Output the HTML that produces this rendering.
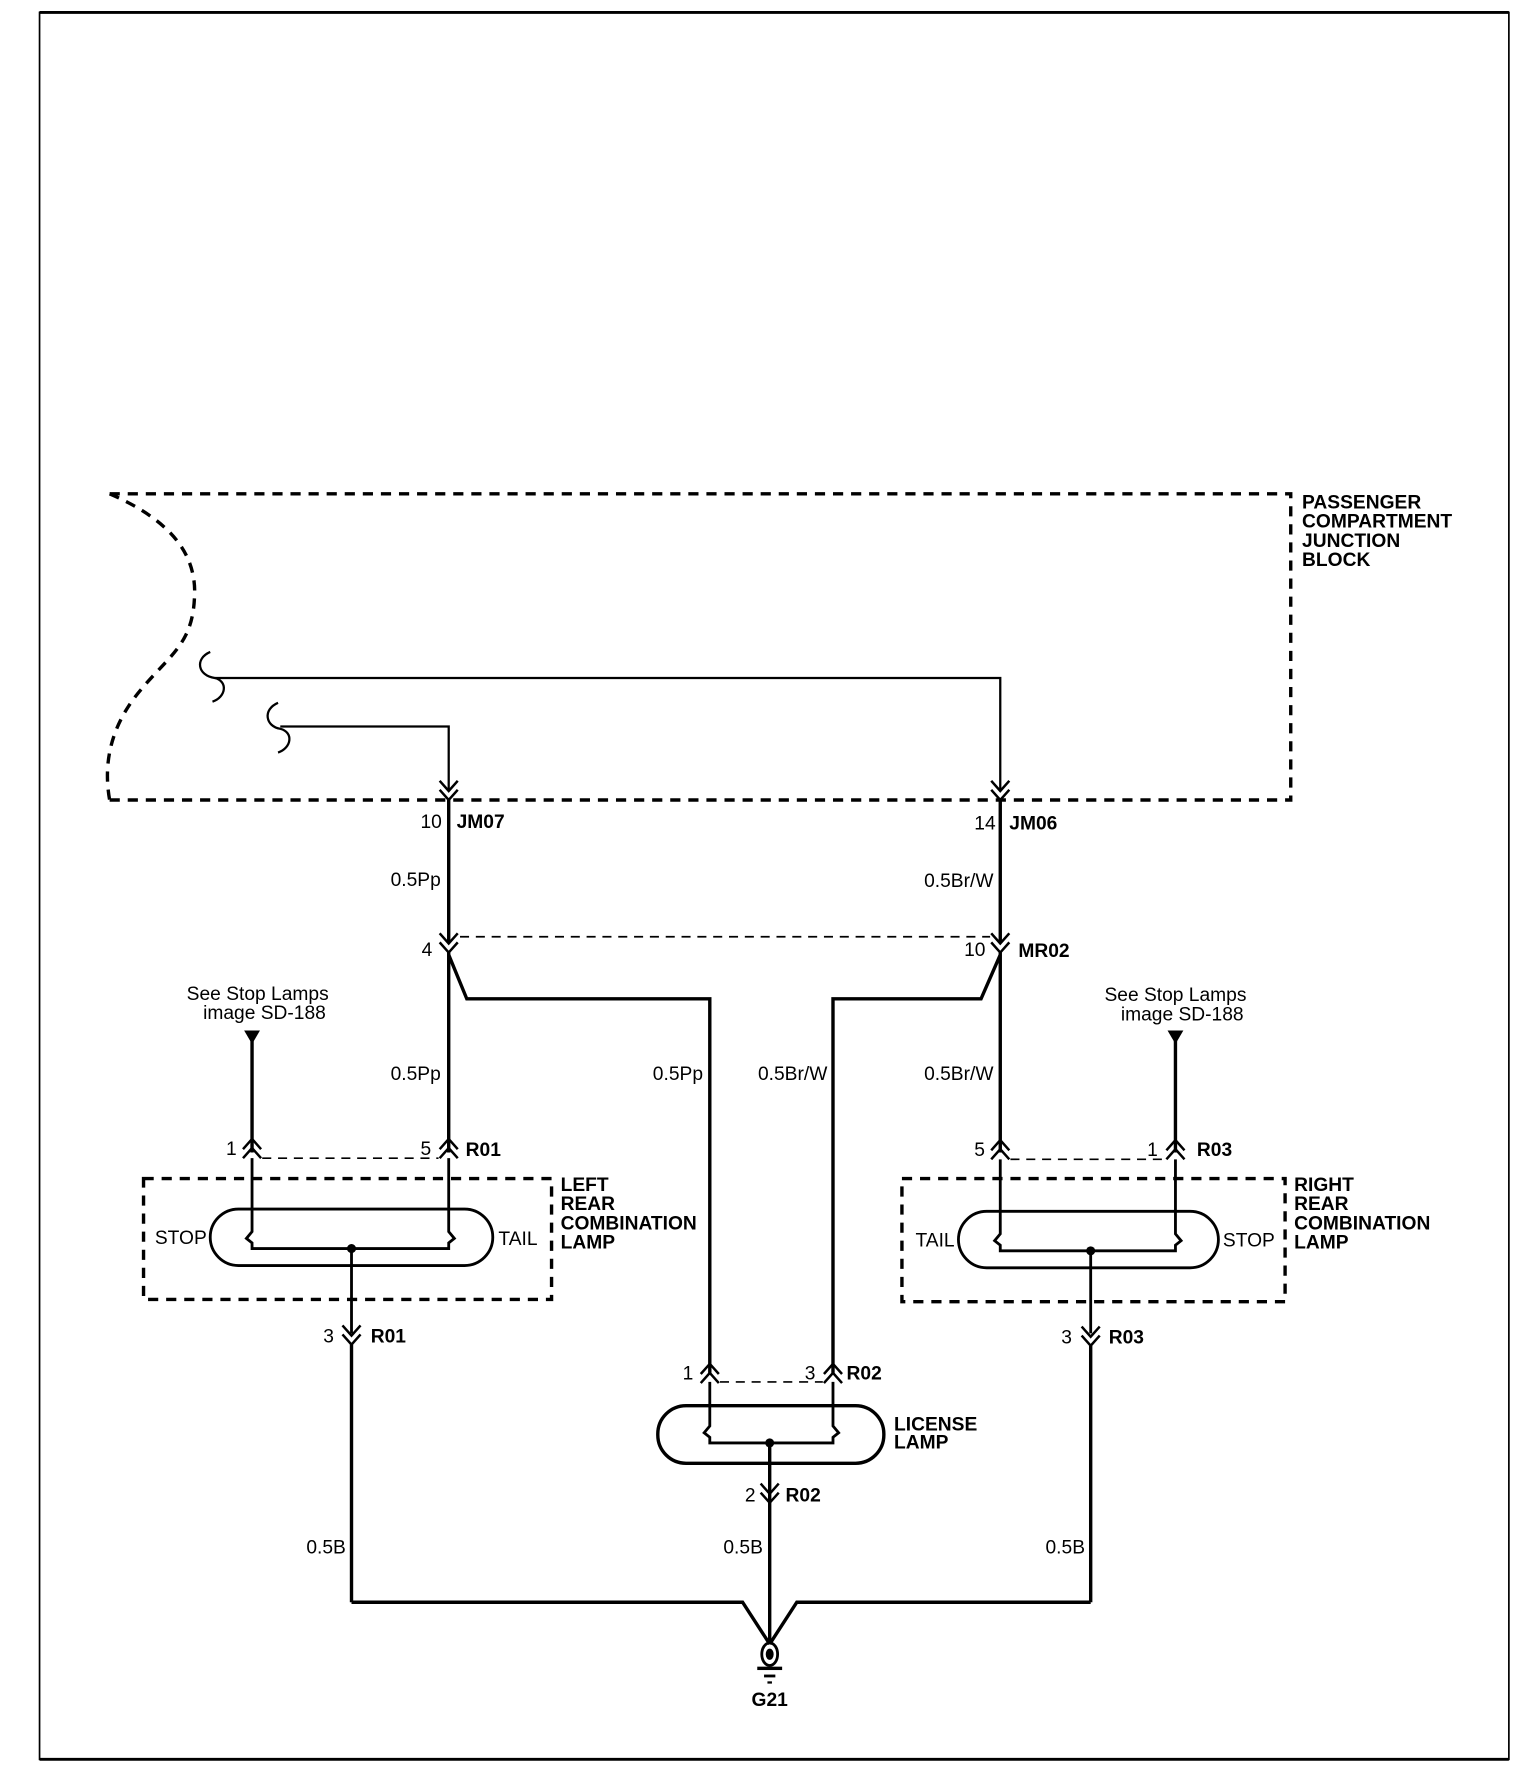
<!DOCTYPE html>
<html><head><meta charset="utf-8"><style>
html,body{margin:0;padding:0;background:#fff;}
svg{display:block;}
text{font-family:"Liberation Sans",Arial,sans-serif;fill:#000;}
.l{font-size:17px;}
.b{font-size:17px;font-weight:bold;}
</style></head><body>
<svg width="1536" height="1774" viewBox="0 0 1359 1570" preserveAspectRatio="none" xmlns="http://www.w3.org/2000/svg">
<defs>
<g id="dn"><polyline points="-8,-9 0,0 8,-9" fill="none" stroke="#000" stroke-width="2.2"/><polyline points="-8,-1 0,8 8,-1" fill="none" stroke="#000" stroke-width="2.2"/></g>
<g id="up"><polyline points="-8,9 0,0 8,9" fill="none" stroke="#000" stroke-width="2.2"/><polyline points="-8,17 0,8 8,17" fill="none" stroke="#000" stroke-width="2.2"/></g>
</defs>
<rect x="35" y="11" width="1300" height="1546" fill="none" stroke="#000" stroke-width="1.5"/>
<line x1="35" y1="11" x2="1335" y2="11" stroke="#000" stroke-width="2.5"/>
<line x1="35" y1="1557" x2="1335" y2="1557" stroke="#000" stroke-width="2.5"/>

<g fill="none" stroke="#000" stroke-width="3" stroke-dasharray="9,7">
<path d="M97,437 L1142,437 L1142,708 L97,708"/>
<path d="M97,437 C150,460 175,490 172,530 C170,570 150,580 125,610 C95,645 92,680 97,708"/>
</g>
<text class="b" x="1152" y="450">PASSENGER</text>
<text class="b" x="1152" y="467">COMPARTMENT</text>
<text class="b" x="1152" y="484">JUNCTION</text>
<text class="b" x="1152" y="501">BLOCK</text>

<g fill="none" stroke="#000" stroke-width="2">
<path d="M186,577 C172,583 175,598 190,600 C202,603 200,617 188,621"/>
<path d="M246,622 C232,628 235,643 248,645 C260,648 258,662 246,666"/>
<polyline points="190,600 885,600 885,700"/>
<polyline points="248,643 397,643 397,700"/>
</g>
<use href="#dn" x="397" y="700"/>
<use href="#dn" x="885" y="700"/>

<text class="l" x="372" y="733">10</text><text class="b" x="404" y="733">JM07</text>
<text class="l" x="862" y="734">14</text><text class="b" x="893" y="734">JM06</text>

<g fill="none" stroke="#000" stroke-width="3">
<line x1="397" y1="708" x2="397" y2="835"/>
<line x1="885" y1="708" x2="885" y2="835"/>
</g>
<text class="l" x="390" y="784" text-anchor="end">0.5Pp</text>
<text class="l" x="879" y="785" text-anchor="end">0.5Br/W</text>

<use href="#dn" x="397" y="835"/>
<use href="#dn" x="885" y="835"/>
<line x1="407" y1="829" x2="876" y2="829" stroke="#000" stroke-width="1.5" stroke-dasharray="8,6"/>
<text class="l" x="373" y="846">4</text>
<text class="l" x="853" y="846">10</text><text class="b" x="901" y="847">MR02</text>

<g fill="none" stroke="#000" stroke-width="3">
<line x1="397" y1="843" x2="397" y2="1020"/>
<line x1="885" y1="843" x2="885" y2="1020"/>
<polyline points="397,845 413,884 628,884 628,1215"/>
<polyline points="885,845 868,884 737,884 737,1215"/>
<line x1="223" y1="920" x2="223" y2="1020"/>
<line x1="1040" y1="920" x2="1040" y2="1020"/>
</g>
<text class="l" x="390" y="956" text-anchor="end">0.5Pp</text>
<text class="l" x="622" y="956" text-anchor="end">0.5Pp</text>
<text class="l" x="732" y="956" text-anchor="end">0.5Br/W</text>
<text class="l" x="879" y="956" text-anchor="end">0.5Br/W</text>

<text class="l" x="228" y="885" text-anchor="middle">See Stop Lamps</text>
<text class="l" x="234" y="902" text-anchor="middle">image SD-188</text>
<text class="l" x="1040" y="886" text-anchor="middle">See Stop Lamps</text>
<text class="l" x="1046" y="903" text-anchor="middle">image SD-188</text>
<polygon points="216,912 230,912 223,924" fill="#000"/>
<polygon points="1033,912 1047,912 1040,924" fill="#000"/>

<use href="#up" x="223" y="1008"/><use href="#up" x="397" y="1008"/>
<use href="#up" x="885" y="1009"/><use href="#up" x="1040" y="1009"/>
<line x1="232" y1="1025" x2="388" y2="1025" stroke="#000" stroke-width="1.5" stroke-dasharray="8,6"/>
<line x1="894" y1="1026" x2="1031" y2="1026" stroke="#000" stroke-width="1.5" stroke-dasharray="8,6"/>
<text class="l" x="200" y="1022">1</text><text class="l" x="372" y="1022">5</text><text class="b" x="412" y="1023">R01</text>
<text class="l" x="862" y="1023">5</text><text class="l" x="1015" y="1023">1</text><text class="b" x="1059" y="1023">R03</text>

<rect x="127" y="1043" width="361" height="107" fill="none" stroke="#000" stroke-width="3" stroke-dasharray="9,7"/>
<text class="b" x="496" y="1054">LEFT</text><text class="b" x="496" y="1071">REAR</text>
<text class="b" x="496" y="1088">COMBINATION</text><text class="b" x="496" y="1105">LAMP</text>
<rect x="186" y="1070" width="250" height="50" rx="25" fill="none" stroke="#000" stroke-width="2.5"/>
<g fill="none" stroke="#000" stroke-width="2.5">
<polyline points="223,1025 223,1090 218,1096 223,1100 223,1105 397,1105 397,1100 402,1096 397,1090 397,1025"/>
<line x1="311" y1="1105" x2="311" y2="1180"/>
</g>
<circle cx="311" cy="1105" r="4" fill="#000"/>
<text class="l" x="137" y="1101">STOP</text><text class="l" x="441" y="1102">TAIL</text>

<rect x="798" y="1043" width="339" height="109" fill="none" stroke="#000" stroke-width="3" stroke-dasharray="9,7"/>
<text class="b" x="1145" y="1054">RIGHT</text><text class="b" x="1145" y="1071">REAR</text>
<text class="b" x="1145" y="1088">COMBINATION</text><text class="b" x="1145" y="1105">LAMP</text>
<rect x="848" y="1072" width="230" height="50" rx="25" fill="none" stroke="#000" stroke-width="2.5"/>
<g fill="none" stroke="#000" stroke-width="2.5">
<polyline points="885,1026 885,1092 880,1098 885,1102 885,1107 1040,1107 1040,1102 1045,1098 1040,1092 1040,1026"/>
<line x1="965" y1="1107" x2="965" y2="1180"/>
</g>
<circle cx="965" cy="1107" r="4" fill="#000"/>
<text class="l" x="810" y="1103">TAIL</text><text class="l" x="1082" y="1103">STOP</text>

<use href="#dn" x="311" y="1182"/><use href="#dn" x="965" y="1183"/>
<text class="l" x="286" y="1188">3</text><text class="b" x="328" y="1188">R01</text>
<text class="l" x="939" y="1189">3</text><text class="b" x="981" y="1189">R03</text>

<use href="#up" x="628" y="1207"/><use href="#up" x="737" y="1207"/>
<line x1="637" y1="1223" x2="728" y2="1223" stroke="#000" stroke-width="1.5" stroke-dasharray="8,6"/>
<text class="l" x="604" y="1221">1</text><text class="l" x="712" y="1221">3</text><text class="b" x="749" y="1221">R02</text>
<rect x="582" y="1244" width="200" height="51" rx="25" fill="none" stroke="#000" stroke-width="3"/>
<g fill="none" stroke="#000" stroke-width="2.5">
<polyline points="628,1223 628,1262 623,1268 628,1272 628,1277 737,1277 737,1272 742,1268 737,1262 737,1223"/>
</g>
<circle cx="681" cy="1277" r="4" fill="#000"/>
<text class="b" x="791" y="1266">LICENSE</text><text class="b" x="791" y="1282">LAMP</text>
<use href="#dn" x="681" y="1322"/>
<text class="l" x="659" y="1329">2</text><text class="b" x="695" y="1329">R02</text>

<g fill="none" stroke="#000" stroke-width="3">
<line x1="311" y1="1190" x2="311" y2="1418"/>
<line x1="965" y1="1191" x2="965" y2="1418"/>
<line x1="681" y1="1277" x2="681" y2="1455"/>
<polyline points="311,1418 657,1418 681,1455"/>
<polyline points="965,1418 705,1418 681,1455"/>
</g>
<text class="l" x="306" y="1375" text-anchor="end">0.5B</text>
<text class="l" x="675" y="1375" text-anchor="end">0.5B</text>
<text class="l" x="960" y="1375" text-anchor="end">0.5B</text>

<ellipse cx="681" cy="1464" rx="7" ry="10" fill="none" stroke="#000" stroke-width="2.5"/>
<ellipse cx="681" cy="1464" rx="3.5" ry="5" fill="#000"/>
<rect x="670" y="1475" width="22" height="3" fill="#000"/>
<rect x="676" y="1482" width="10" height="2.5" fill="#000"/>
<rect x="679" y="1488" width="4" height="2" fill="#000"/>
<text class="b" x="681" y="1510" text-anchor="middle">G21</text>
</svg>
</body></html>
